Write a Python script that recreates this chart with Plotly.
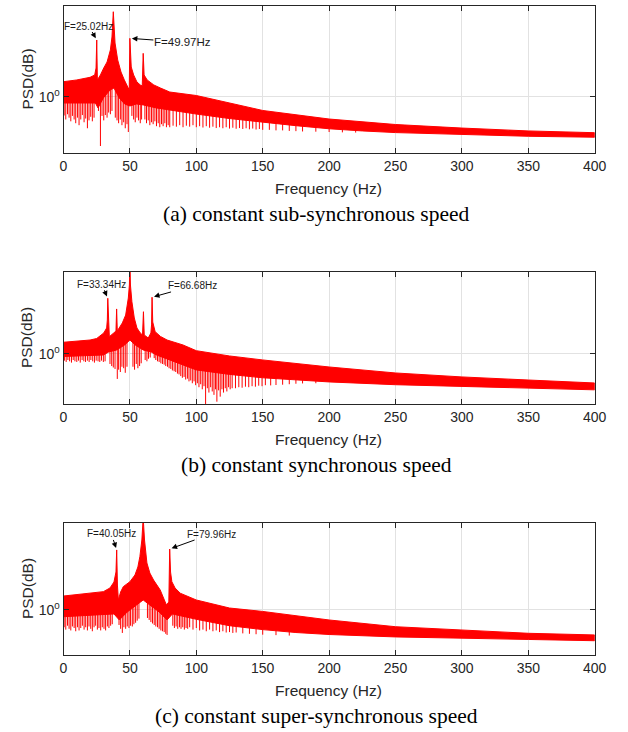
import numpy as np
import plotly.graph_objects as go

# ---------------- shared axis data ----------------
freq_ticks = [0, 50, 100, 150, 200, 250, 300, 350, 400]
freq_tick_labels = [str(v) for v in freq_ticks]
psd_ticks = [1]
psd_tick_labels = ["10<sup>0</sup>"]

# ---------------- (a) constant sub-synchronous speed ----------------
a_env_f = [0, 10, 20, 23.5, 24.5, 25.02, 25.5, 26.5, 27.8, 30.3, 32.8, 35.3, 36.5, 37.5, 38.8, 40.8,
           43.3, 45.8, 48.3, 49.5, 49.97, 50.5, 51, 52.8, 55.3, 57.8, 59.3, 60, 60.7, 63, 68, 73, 80,
           100, 125, 150, 200, 250, 300, 350, 400]
a_env_hi = [1.265, 1.30, 1.355, 1.406, 1.567, 2.43, 1.30, 1.34, 1.406, 1.567, 1.722, 2.08, 2.547, 3.785,
            2.318, 1.778, 1.472, 1.30, 1.146, 1.11, 2.495, 1.778, 1.592, 1.406, 1.259, 1.202, 1.183, 1.972,
            1.406, 1.30, 1.202, 1.146, 1.076, 1.019, 0.906, 0.806, 0.705, 0.647, 0.612, 0.585, 0.569]
a_lo_f = [0, 24, 26, 30, 35, 38, 42, 46, 50, 55, 60, 70, 100, 125, 150, 175, 200, 225, 250, 300, 350, 400]
a_lo = [0.906, 0.906, 0.838, 0.98, 1.11, 1.146, 0.98, 0.892, 0.865, 0.892, 0.879, 0.838, 0.762, 0.71,
        0.67, 0.635, 0.605, 0.585, 0.570, 0.552, 0.538, 0.530]
a_dip_f = [0.5, 1.7, 3.0, 4.2, 5.5, 6.7, 8.0, 9.2, 10.5, 11.7, 13.0, 14.2, 15.5, 16.7, 18.0, 19.2, 20.5,
           21.7, 23.0, 26.3, 27.8, 29.0, 30.3, 31.5, 32.8, 34.0, 35.3, 36.5, 39.0, 40.3, 41.5, 42.8, 44.0,
           45.3, 46.5, 47.8, 48.8, 51.5, 52.8, 54.0, 55.3, 56.5, 57.8, 58.8, 61.3, 62.5, 63.8, 65.0, 66.3,
           67.5, 68.8, 70.0, 71.3, 72.5, 73.8, 75.0, 76.3, 77.5, 78.8, 80.0, 82.5, 85.0, 87.5, 90.0, 92.5,
           95.0, 97.5, 100.0, 102.5, 105.0, 107.5, 110.0, 112.5, 115.0, 117.5, 120.0, 122.5, 125.0, 127.5,
           130.0, 132.5, 135.0, 137.5, 140.0, 142.5, 145.0, 147.5, 150.0, 155.0, 160.0, 165.0, 170.0, 175.0,
           180.0, 190.0, 200.0, 210.0, 220.0]
a_dip = [0.745, 0.70, 0.76, 0.72, 0.68, 0.74, 0.70, 0.66, 0.72, 0.64, 0.70, 0.75, 0.67, 0.71, 0.61, 0.69,
         0.73, 0.68, 0.72, 0.80, 0.462, 0.74, 0.69, 0.75, 0.72, 0.78, 0.76, 0.80, 0.72, 0.69, 0.66, 0.70,
         0.64, 0.67, 0.61, 0.65, 0.575, 0.74, 0.70, 0.67, 0.72, 0.69, 0.66, 0.70, 0.70, 0.66, 0.69, 0.64,
         0.67, 0.65, 0.68, 0.63, 0.66, 0.62, 0.65, 0.63, 0.66, 0.62, 0.64, 0.62, 0.635, 0.625, 0.64, 0.62,
         0.635, 0.625, 0.64, 0.62, 0.63, 0.617, 0.63, 0.615, 0.625, 0.612, 0.62, 0.61, 0.62, 0.607, 0.615,
         0.605, 0.612, 0.603, 0.61, 0.60, 0.607, 0.598, 0.603, 0.595, 0.595, 0.59, 0.59, 0.585, 0.583,
         0.58, 0.578, 0.575, 0.572, 0.57]
a_marks_f = [25.02, 49.97]
a_marks_psd = [2.43, 2.495]
a_marks_text = ["F=25.02Hz", "F=49.97Hz"]

# ---------------- (b) constant synchronous speed ----------------
b_env_f = [0, 10, 20, 25, 30.3, 32.5, 33.0, 33.34, 33.8, 34.5, 37.8, 39.5, 40, 40.5, 44.3, 46.8, 48.8, 49.6,
           50, 50.4, 51.5, 53.3, 55.3, 57.8, 59.5, 60.2, 60.8, 63.8, 65.8, 66.3, 66.68, 67.2, 69, 73, 78, 90,
           100, 125, 150, 200, 250, 300, 350, 400]
b_env_hi = [1.227, 1.245, 1.276, 1.31, 1.442, 1.574, 1.81, 2.642, 1.66, 1.352, 1.442, 1.494, 2.193, 1.494,
            1.718, 1.972, 2.655, 3.33, 5.0, 3.33, 2.49, 1.874, 1.574, 1.442, 1.393, 2.09, 1.393, 1.321, 1.442,
            1.66, 2.69, 1.746, 1.476, 1.358, 1.276, 1.17, 1.059, 0.966, 0.901, 0.797, 0.718, 0.67, 0.635, 0.603]
b_lo_f = [0, 30, 34, 40, 46, 50, 54, 60, 66, 70, 80, 100, 125, 150, 175, 200, 250, 300, 350, 400]
b_lo = [0.957, 0.982, 1.035, 1.072, 1.17, 1.276, 1.17, 1.072, 1.035, 0.982, 0.901, 0.757, 0.70, 0.66,
        0.635, 0.614, 0.585, 0.565, 0.55, 0.535]
b_dip_f = [0.7, 2.0, 3.3, 4.6, 6.0, 7.3, 8.6, 10.0, 11.3, 12.6, 14.0, 15.3, 16.6, 18.0, 19.3, 20.6, 22.0,
           23.3, 24.6, 26.0, 27.3, 28.6, 30.0, 31.3, 35.0, 36.3, 37.5, 38.8, 40.5, 41.5, 42.8, 44.0, 45.3,
           46.5, 47.8, 52.3, 53.5, 54.8, 56.0, 57.3, 58.5, 61.5, 62.8, 64.0, 65.3, 68.3, 69.5, 70.8, 72.0,
           73.3, 74.5, 75.8, 77.0, 78.3, 79.5, 80.8, 82.0, 83.3, 84.5, 85.8, 87.0, 88.3, 89.5, 90.8, 92.0,
           93.3, 94.5, 95.8, 97.0, 98.3, 99.5, 100.8, 102.0, 103.3, 104.5, 105.8, 107.0, 108.3, 109.5,
           110.8, 112.0, 113.3, 114.5, 115.5, 116.8, 118.0, 119.3, 120.5, 121.8, 123.0, 124.3, 125.5, 127.0,
           129.5, 132.0, 134.5, 137.0, 139.5, 142.0, 144.5, 147.0, 149.5, 152.0, 156.0, 160.0, 165.0, 170.0,
           175.0, 180.0, 190.0]
b_dip = [0.89, 0.87, 0.90, 0.88, 0.86, 0.90, 0.88, 0.87, 0.89, 0.86, 0.90, 0.88, 0.87, 0.89, 0.87, 0.90,
         0.88, 0.86, 0.89, 0.88, 0.87, 0.89, 0.87, 0.88, 0.84, 0.81, 0.79, 0.77, 0.647, 0.76, 0.73, 0.80,
         0.78, 0.72, 0.80, 0.80, 0.76, 0.84, 0.78, 0.81, 0.85, 0.90, 0.88, 0.92, 0.94, 0.93, 0.90, 0.88,
         0.87, 0.85, 0.84, 0.83, 0.81, 0.80, 0.78, 0.77, 0.75, 0.74, 0.73, 0.71, 0.70, 0.68, 0.66, 0.67,
         0.64, 0.65, 0.62, 0.63, 0.60, 0.62, 0.58, 0.60, 0.56, 0.59, 0.54, 0.57, 0.40, 0.55, 0.51, 0.56,
         0.52, 0.49, 0.54, 0.435, 0.53, 0.475, 0.54, 0.51, 0.55, 0.52, 0.56, 0.54, 0.55, 0.55, 0.56, 0.555,
         0.565, 0.56, 0.57, 0.565, 0.575, 0.57, 0.58, 0.578, 0.582, 0.585, 0.59, 0.595, 0.598, 0.60]
b_marks_f = [33.34, 66.68]
b_marks_psd = [2.642, 2.69]
b_marks_text = ["F=33.34Hz", "F=66.68Hz"]

# ---------------- (c) constant super-synchronous speed ----------------
c_env_f = [0, 15, 30, 35, 38, 39.5, 40.05, 40.6, 41.3, 43, 45, 50, 53.8, 56, 57.5, 59, 60, 61, 62.8, 65,
           67.8, 72.8, 76, 77.5, 79.3, 79.96, 80.6, 81.6, 84, 87.9, 100, 125, 150, 200, 250, 300, 350, 400]
c_env_hi = [1.276, 1.321, 1.377, 1.468, 1.629, 1.94, 2.85, 1.545, 1.191, 1.368, 1.503, 1.637, 1.841, 2.118,
            2.535, 3.39, 5.0, 3.39, 2.27, 1.905, 1.687, 1.419, 1.191, 1.091, 1.15, 2.897, 1.94, 1.637, 1.468,
            1.34, 1.191, 1.035, 0.975, 0.84, 0.747, 0.705, 0.666, 0.647]
c_lo_f = [0, 38, 42, 48, 55, 60, 65, 72, 78, 82, 100, 125, 150, 175, 200, 250, 300, 350, 400]
c_lo = [0.889, 0.933, 0.84, 0.966, 1.091, 1.191, 1.091, 0.966, 0.84, 0.933, 0.85, 0.76, 0.71, 0.675,
        0.652, 0.625, 0.61, 0.598, 0.585]
c_dip_f = [0.5, 1.7, 3.0, 4.2, 5.5, 6.7, 8.0, 9.2, 10.5, 11.7, 13.0, 14.2, 15.5, 16.7, 18.0, 19.2, 20.5,
           21.7, 23.0, 24.2, 25.5, 26.7, 28.0, 29.2, 30.5, 31.7, 33.0, 34.2, 35.5, 36.7, 41.8, 43.0, 44.3,
           45.5, 46.8, 48.0, 49.3, 50.5, 51.8, 53.0, 54.3, 55.5, 56.8, 63.2, 64.5, 65.8, 67.0, 68.3, 69.5,
           70.8, 72.0, 73.3, 74.5, 75.8, 77.0, 78.0, 82.3, 83.5, 84.8, 86.0, 87.3, 88.5, 89.8, 91.0, 92.3,
           93.5, 95.0, 97.5, 100.0, 102.5, 105.0, 107.5, 110.0, 112.5, 115.0, 117.5, 120.0, 122.5, 125.0,
           127.5, 130.0, 135.0, 140.0, 145.0, 150.0, 160.0, 170.0]
c_dip = [0.74, 0.71, 0.76, 0.72, 0.70, 0.75, 0.73, 0.69, 0.74, 0.70, 0.73, 0.76, 0.71, 0.74, 0.70, 0.75,
         0.72, 0.69, 0.74, 0.76, 0.71, 0.73, 0.70, 0.74, 0.72, 0.70, 0.75, 0.73, 0.76, 0.78, 0.77, 0.72,
         0.67, 0.74, 0.72, 0.75, 0.73, 0.76, 0.75, 0.78, 0.80, 0.83, 0.86, 0.87, 0.84, 0.81, 0.79, 0.77,
         0.75, 0.74, 0.72, 0.70, 0.69, 0.68, 0.66, 0.647, 0.76, 0.73, 0.75, 0.72, 0.74, 0.72, 0.74, 0.71,
         0.73, 0.72, 0.74, 0.71, 0.73, 0.70, 0.71, 0.69, 0.71, 0.69, 0.70, 0.68, 0.69, 0.675, 0.68, 0.67,
         0.675, 0.665, 0.66, 0.655, 0.65, 0.645, 0.64]
c_marks_f = [40.05, 79.96]
c_marks_psd = [2.85, 2.897]
c_marks_text = ["F=40.05Hz", "F=79.96Hz"]

captions = ["(a) constant sub-synchronous speed",
            "(b) constant synchronous speed",
            "(c) constant super-synchronous speed"]

# ---------------- layout geometry (pixels in a 628 x 732 page) ----------------
W, H = 628, 732
# horizontal positions, corrected for the horizontal squeeze seen in the captured page
def hx(px):
    return (px - 3.4) / 0.976 / W

PX_L, PX_R = 63, 595
panel_px = [(6, 153), (272, 404), (523, 655)]          # top, bottom of each plot area
yranges = [[-0.383, 0.617], [-0.379, 0.621], [-0.341, 0.659]]
# label text centre offset from the marked peak (pixels) and font size
label_style = [
    [(-8, -14, 10), (52.5, 3.7, 11.5)],
    [(-6, -14, 10), (40.5, -11.3, 10)],
    [(-5.3, -16, 10), (41.5, -15, 10)],
]

panels = [
    (a_env_f, a_env_hi, a_lo_f, a_lo, a_dip_f, a_dip, a_marks_f, a_marks_psd, a_marks_text),
    (b_env_f, b_env_hi, b_lo_f, b_lo, b_dip_f, b_dip, b_marks_f, b_marks_psd, b_marks_text),
    (c_env_f, c_env_hi, c_lo_f, c_lo, c_dip_f, c_dip, c_marks_f, c_marks_psd, c_marks_text),
]

RED = "#ff0000"
AX = "#262626"
GRID = "#e2e2e2"
SANS = "Liberation Sans, Arial, sans-serif"
SERIF = "Liberation Serif, Times New Roman, serif"

fig = go.Figure()
annotations = []
layout_axes = {}

for i, (ef, eh, lf, lo, df, dv, mf, mp, mt) in enumerate(panels):
    xs = "x" if i == 0 else f"x{i+1}"
    ys = "y" if i == 0 else f"y{i+1}"
    # spectrum band: upper envelope forward, lower envelope backward
    fig.add_trace(go.Scatter(
        x=list(ef) + list(lf)[::-1], y=list(eh) + list(lo)[::-1],
        xaxis=xs, yaxis=ys, mode="lines", fill="toself", fillcolor=RED,
        line=dict(color=RED, width=1), hoverinfo="skip", showlegend=False))
    # downward dips of the spectrum, each joined up into the band
    dx, dy = [], []
    for f, v in zip(df, dv):
        top = float(np.interp(f, lf, lo)) * 1.05
        dx += [f, f, None]
        dy += [v, top, None]
    fig.add_trace(go.Scatter(x=dx, y=dy, xaxis=xs, yaxis=ys, mode="lines",
                             line=dict(color=RED, width=1), hoverinfo="skip", showlegend=False))

    top_px, bot_px = panel_px[i]
    ydom = [1 - bot_px / H, 1 - top_px / H]
    axis_common = dict(showline=True, linecolor=AX, linewidth=1, mirror="ticks",
                       ticks="inside", ticklen=5, tickwidth=1, tickcolor=AX,
                       showgrid=True, gridcolor=GRID, gridwidth=1, zeroline=False,
                       tickfont=dict(family=SANS, size=14, color=AX))
    layout_axes["xaxis" if i == 0 else f"xaxis{i+1}"] = dict(
        domain=[hx(PX_L), hx(PX_R)], range=[0, 400], anchor=ys,
        tickmode="array", tickvals=freq_ticks, ticktext=freq_tick_labels, **axis_common)
    layout_axes["yaxis" if i == 0 else f"yaxis{i+1}"] = dict(
        domain=ydom, type="log", range=yranges[i], anchor=xs,
        tickmode="array", tickvals=psd_ticks, ticktext=psd_tick_labels, **axis_common)

    # peak labels with arrows pointing at the peaks
    for k in range(2):
        ax, ay, size = label_style[i][k]
        ylog = float(np.log10(mp[k]))
        annotations.append(dict(x=mf[k], y=ylog, xref=xs, yref=ys, text=mt[k], showarrow=True,
                                ax=ax, ay=ay, axref="pixel", ayref="pixel", arrowhead=2,
                                arrowsize=1.1, arrowwidth=1, arrowcolor="#000000", standoff=2,
                                borderpad=0, font=dict(family=SANS, size=size, color="#1a1a1a")))

    # axis titles and caption
    annotations.append(dict(x=hx(328), y=1 - (bot_px + 35) / H, xref="paper", yref="paper",
                            text="Frequency (Hz)", showarrow=False, xanchor="center", yanchor="middle",
                            font=dict(family=SANS, size=15.5, color=AX)))
    annotations.append(dict(x=hx(26.5), y=1 - ((top_px + bot_px) / 2) / H, xref="paper", yref="paper",
                            text="PSD(dB)", textangle=-90, showarrow=False, xanchor="center",
                            yanchor="middle", font=dict(family=SANS, size=15.5, color=AX)))
    annotations.append(dict(x=hx(316.5), y=1 - (bot_px + 61) / H, xref="paper", yref="paper",
                            text=captions[i], showarrow=False, xanchor="center", yanchor="middle",
                            font=dict(family=SERIF, size=21.5, color="#000000")))

fig.update_layout(width=W, height=H, autosize=False, margin=dict(l=0, r=0, t=0, b=0, pad=0),
                  paper_bgcolor="white", plot_bgcolor="white", showlegend=False,
                  annotations=annotations, **layout_axes)

fig.write_html(
    "out.html",
    config={"responsive": False, "displayModeBar": False},
    post_script=("document.body.style.margin='0';document.body.style.overflow='hidden';"
                 "Plotly.relayout('{plot_id}', {width: %d, height: %d});" % (W, H)),
)
